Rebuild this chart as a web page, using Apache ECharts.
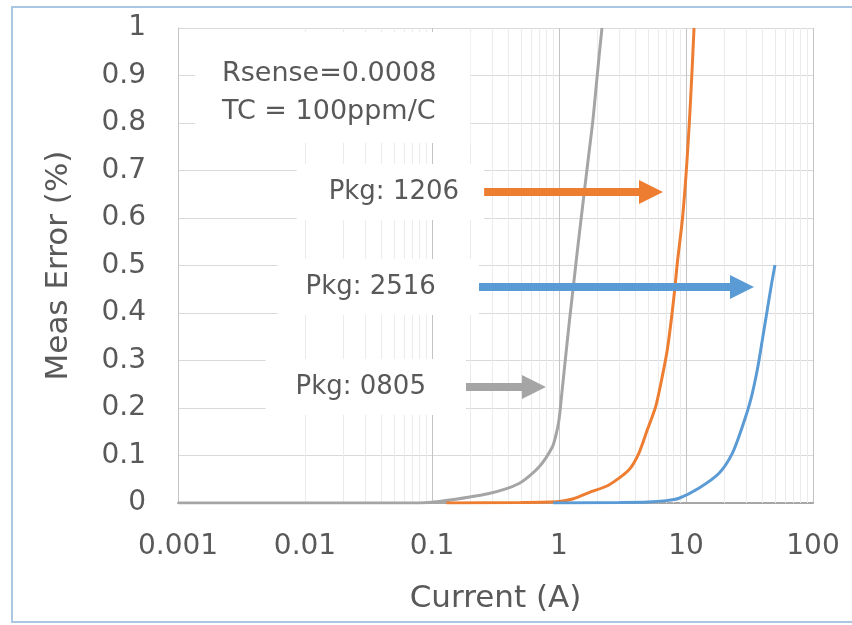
<!DOCTYPE html>
<html>
<head>
<meta charset="utf-8">
<script src="https://cdn.jsdelivr.net/npm/echarts@6/dist/echarts.min.js"></script>
<style>
  html, body { margin: 0; padding: 0; background: #fff; }
  #chart { width: 852px; height: 625px; }
</style>
</head>
<body>
<div id="chart"></div>
<script>
// values
var xTickLabels = ['0.001', '0.01', '0.1', '1', '10', '100'];
var yTicks = [0, 0.1, 0.2, 0.3, 0.4, 0.5, 0.6, 0.7, 0.8, 0.9, 1];

var pkg0805X = [0.001, 0.08, 0.1135, 0.281, 0.484, 0.696, 0.886, 0.95, 1.0, 1.066, 1.135, 1.21, 1.296, 1.388, 1.49, 1.6, 1.72, 1.85, 1.96, 2.08, 2.18];
var pkg0805Y = [0, 0, 0.003, 0.02, 0.041, 0.076, 0.118, 0.145, 0.175, 0.245, 0.315, 0.385, 0.455, 0.526, 0.596, 0.666, 0.736, 0.806, 0.876, 0.947, 1.0];

var pkg1206X = [0.13, 0.5, 1.0, 1.3, 1.72, 2.47, 3.56, 4.26, 4.96, 5.77, 6.5, 7.12, 7.71, 8.19, 8.54, 9.39, 10.06, 10.62, 11.11, 11.57];
var pkg1206Y = [0, 0.001, 0.003, 0.009, 0.022, 0.038, 0.07, 0.105, 0.154, 0.203, 0.266, 0.322, 0.392, 0.455, 0.505, 0.6, 0.7, 0.8, 0.9, 1.0];

var pkg2516X = [0.9, 3, 5, 7, 8.81, 12.6, 18.2, 23.2, 27.8, 32.3, 36.4, 39.9, 43.6, 47.3, 50.2];
var pkg2516Y = [0, 0.001, 0.002, 0.005, 0.01, 0.031, 0.0625, 0.105, 0.161, 0.217, 0.28, 0.343, 0.406, 0.463, 0.501];

// arrow annotations, in data units: [fromX, toX, y]
var arrow1206 = [0.257, 5.3, 0.655];
var arrow2516 = [0.234, 27.6, 0.455];
var arrow0805 = [0.185, 0.635, 0.244];

// minor log grid lines (2..9 in every decade)
var decades = [0.001, 0.01, 0.1, 1, 10];
var minorSteps = [2, 3, 4, 5, 6, 7, 8, 9];
var minorGrid = [];
decades.forEach(function (d) {
  minorSteps.forEach(function (m) { minorGrid.push(+(d * m).toPrecision(3)); });
});

function pairs(xs, ys) {
  return xs.map(function (x, i) { return [x, ys[i]]; });
}

var FONT = 'DejaVu Sans';
var TEXT = '#595959';

function arrowLine(a, color, label, padLeft, padRight) {
  return {
    z: 5,
    silent: true,
    symbol: ['none', 'triangle'],
    symbolSize: [24, 24],
    lineStyle: { color: color, width: 8, type: 'solid' },
    label: {
      show: true,
      position: 'start',
      distance: 0,
      formatter: label,
      color: TEXT,
      fontFamily: FONT,
      fontSize: 26,
      lineHeight: 26,
      backgroundColor: '#fff',
      padding: [15, padRight, 15, padLeft]
    },
    data: [[{ coord: [a[0], a[2]] }, { coord: [a[1], a[2]] }]]
  };
}

function curve(name, xs, ys, color) {
  return {
    name: name,
    type: 'line',
    data: pairs(xs, ys),
    showSymbol: false,
    smooth: 0.25,
    lineStyle: { color: color, width: 3 },
    itemStyle: { color: color }
  };
}

var myChart = echarts.init(document.getElementById('chart'));

var s0805 = curve('Pkg: 0805', pkg0805X, pkg0805Y, '#a5a5a5');
s0805.markLine = arrowLine(arrow0805, '#a5a5a5', 'Pkg: 0805', 30, 40);
var s1206 = curve('Pkg: 1206', pkg1206X, pkg1206Y, '#ed7d31');
s1206.markLine = arrowLine(arrow1206, '#ed7d31', 'Pkg: 1206', 32, 25);
var s2516 = curve('Pkg: 2516', pkg2516X, pkg2516Y, '#5b9bd5');
s2516.markLine = arrowLine(arrow2516, '#5b9bd5', 'Pkg: 2516', 28, 43);

var option = {
  animation: false,
  backgroundColor: '#fff',
  title: {
    text: 'Rsense=0.0008\nTC = 100ppm/C',
    left: 195,
    top: 32,
    padding: [23, 34, 12, 27],
    backgroundColor: '#fff',
    textStyle: { color: TEXT, fontFamily: FONT, fontSize: 27, lineHeight: 38, fontWeight: 'normal' }
  },
  graphic: [{
    type: 'rect',
    shape: { x: 12, y: 7, width: 850, height: 615 },
    style: { fill: 'none', stroke: '#a9c6e3', lineWidth: 2 },
    silent: true
  }],
  grid: { left: 178, right: 39, top: 28, bottom: 122 },
  xAxis: {
    type: 'log',
    logBase: 10,
    min: 0.001,
    max: 100,
    name: 'Current (A)',
    nameLocation: 'middle',
    nameGap: 80,
    nameTextStyle: { color: TEXT, fontFamily: FONT, fontSize: 31 },
    axisLine: { show: true, lineStyle: { color: '#a6a6a6', width: 2 } },
    axisTick: { show: false },
    axisLabel: {
      color: TEXT, fontFamily: FONT, fontSize: 28, margin: 30,
      formatter: function (v, i) { return xTickLabels[i]; }
    },
    splitLine: { show: true, lineStyle: { color: '#c4c4c4', width: 1 } }
  },
  yAxis: {
    type: 'value',
    min: yTicks[0],
    max: yTicks[yTicks.length - 1],
    interval: 0.1,
    name: 'Meas Error (%)',
    nameLocation: 'middle',
    nameGap: 104,
    nameTextStyle: { color: TEXT, fontFamily: FONT, fontSize: 31 },
    axisLine: { show: true, lineStyle: { color: '#c4c4c4', width: 1 } },
    axisTick: { show: false },
    axisLabel: { color: TEXT, fontFamily: FONT, fontSize: 28, margin: 32 },
    splitLine: { show: true, lineStyle: { color: '#d9d9d9', width: 1 } }
  },
  series: [
    {
      name: 'minor grid',
      type: 'line',
      data: [],
      silent: true,
      markLine: {
        z: 1,
        silent: true,
        symbol: ['none', 'none'],
        label: { show: false },
        lineStyle: { color: '#ebebeb', width: 1, type: 'solid' },
        data: minorGrid.map(function (v) { return { xAxis: v }; })
      }
    },
    s0805,
    s1206,
    s2516
  ]
};

myChart.setOption(option);
</script>
</body>
</html>
